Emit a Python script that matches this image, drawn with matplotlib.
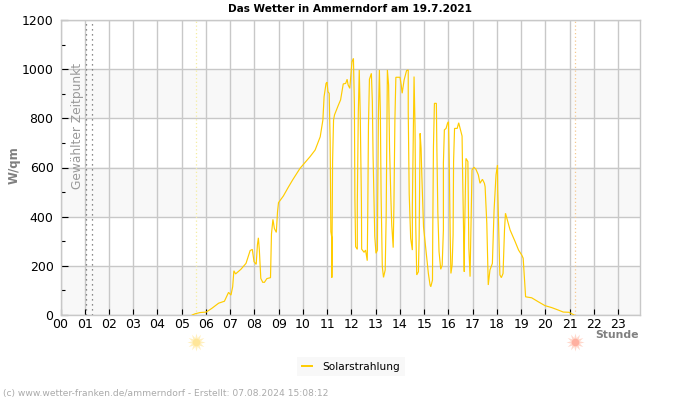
import matplotlib
matplotlib.use("Agg")
import matplotlib.pyplot as plt

# Solarstrahlung
stunde = [5.43, 5.55, 5.76, 6.01, 6.24, 6.52, 6.76, 6.93, 7.03, 7.10, 7.15, 7.22, 7.44, 7.65, 7.82, 7.91, 7.98, 8.07, 8.12, 8.16,
          8.20, 8.26, 8.34, 8.41, 8.51, 8.66, 8.70, 8.76, 8.82, 8.90, 8.95, 8.99, 9.19, 9.39, 9.57, 9.88, 10.29, 10.50, 10.71, 10.82,
          10.87, 10.95, 10.99, 11.03, 11.08, 11.12, 11.15, 11.19, 11.19, 11.22, 11.26, 11.30, 11.46, 11.55, 11.63, 11.66, 11.76, 11.82, 11.86, 11.93,
          11.98, 12.02, 12.08, 12.12, 12.14, 12.17, 12.24, 12.24, 12.28, 12.32, 12.36, 12.41, 12.42, 12.52, 12.58, 12.65, 12.67, 12.70, 12.74, 12.82,
          12.86, 12.89, 12.93, 12.96, 13.01, 13.07, 13.08, 13.11, 13.15, 13.19, 13.22, 13.27, 13.32, 13.39, 13.43, 13.46, 13.48, 13.53, 13.57, 13.62,
          13.66, 13.72, 13.75, 13.79, 13.83, 14.00, 14.05, 14.09, 14.17, 14.27, 14.34, 14.34, 14.38, 14.44, 14.51, 14.51, 14.58, 14.62, 14.65, 14.69,
          14.76, 14.79, 14.83, 14.87, 14.90, 14.97, 15.07, 15.17, 15.24, 15.27, 15.34, 15.35, 15.38, 15.42, 15.50, 15.52, 15.56, 15.61, 15.68, 15.74,
          15.79, 15.79, 15.83, 15.90, 15.96, 16.00, 16.03, 16.07, 16.10, 16.15, 16.19, 16.21, 16.25, 16.36, 16.42, 16.48, 16.56, 16.58, 16.65, 16.66,
          16.72, 16.80, 16.84, 16.89, 16.97, 17.05, 17.13, 17.23, 17.30, 17.40, 17.48, 17.51, 17.58, 17.62, 17.64, 17.71, 17.81, 17.88, 17.96, 18.02,
          18.03, 18.09, 18.12, 18.18, 18.25, 18.31, 18.35, 18.41, 18.54, 18.75, 18.89, 19.02, 19.08, 19.11, 19.18, 19.43, 19.70, 19.98, 20.26, 20.53,
          20.73, 20.97, 21.18]
solar = [0, 5, 10, 12, 27, 48, 56, 92, 81, 115, 180, 167, 186, 210, 262, 267, 217, 206, 285, 314,
         264, 149, 133, 133, 148, 152, 330, 389, 352, 336, 420, 457, 484, 519, 549, 597, 644, 671, 725, 793,
         888, 942, 947, 908, 902, 705, 339, 313, 152, 624, 793, 814, 854, 875, 922, 940, 942, 959, 936, 922,
         983, 1030, 1044, 854, 475, 278, 267, 454, 818, 997, 818, 454, 268, 255, 264, 221, 407, 773, 959, 983,
         868, 647, 461, 319, 251, 264, 454, 814, 997, 827, 495, 197, 153, 183, 400, 793, 997, 936, 678, 488,
         366, 274, 447, 793, 967, 967, 936, 902, 956, 994, 997, 827, 492, 312, 264, 441, 970, 766, 366, 163,
         176, 319, 739, 678, 570, 359, 264, 169, 122, 115, 142, 325, 685, 861, 861, 685, 420, 258, 186, 203,
         346, 618, 753, 759, 780, 786, 631, 325, 169, 203, 325, 624, 759, 759, 782, 759, 728, 590, 176, 313,
         637, 624, 273, 156, 590, 601, 593, 570, 536, 552, 536, 522, 373, 210, 122, 183, 210, 427, 570, 610,
         509, 278, 163, 152, 169, 346, 414, 393, 346, 298, 264, 244, 231, 183, 74, 70, 54, 38, 30, 20,
         12, 11, 0]

stunden_labels = ["%02d" % h for h in range(24)]
y_major = [0, 200, 400, 600, 800, 1000, 1200]
y_minor = [100, 300, 500, 700, 900, 1100]
baender = [(0, 200), (400, 600), (800, 1000)]
gewaehlt = [1.05, 1.31]
aufgang = 5.59
untergang = 21.22

fig = plt.figure(figsize=(7, 4), dpi=100)
ax = fig.add_axes([60.5 / 700, 1 - 315 / 400, 579.8 / 700, 295 / 400])
ax.set_xlim(0, 23.91)
ax.set_ylim(0, 1200)

for lo, hi in baender:
    ax.axhspan(lo, hi, facecolor="#f8f8f8", edgecolor="none", zorder=0)

ax.set_axisbelow(True)
ax.grid(True, which="major", color="#c8c8c8", linewidth=1)
for s in ax.spines.values():
    s.set_color("#c8c8c8")
    s.set_linewidth(1)

ax.set_xticks(range(24))
ax.set_xticklabels(stunden_labels, fontsize=9)
ax.set_yticks(y_major)
ax.set_yticks(y_minor, minor=True)
ax.tick_params(axis="x", direction="in", length=4, width=0.8, pad=2.5, colors="black")
ax.tick_params(axis="y", which="major", direction="in", length=5, width=0.8, pad=5, labelsize=9)
ax.tick_params(axis="y", which="minor", direction="in", length=3, width=0.8)

ax.plot(stunde, solar, color="#ffcc00", linewidth=0.85, solid_joinstyle="miter", label="Solarstrahlung", zorder=3)

# gewaehlter Zeitpunkt und Sonnenauf-/untergang
for g in gewaehlt:
    ax.axvline(g, color="#666666", linestyle=(0, (1, 3)), linewidth=0.9, zorder=2)
ax.axvline(aufgang, color="#f5eda0", linestyle=(0, (1, 2)), linewidth=0.9, zorder=2)
ax.axvline(untergang, color="#f5c890", linestyle=(0, (1, 2)), linewidth=0.9, zorder=2)
ax.text(0.72, 1025, "Gewählter Zeitpunkt", rotation=90, fontsize=8.8, color="#999999", ha="center", va="top", zorder=4)

# Sonnensymbole unter der Achse
ax.plot([aufgang], [-108], marker=(12, 1, 0), markersize=13, color="#fff0c0", markeredgewidth=0, clip_on=False)
ax.plot([aufgang], [-108], marker="o", markersize=5.5, color="#ffe69a", markeredgewidth=0, clip_on=False)
ax.plot([untergang], [-108], marker=(12, 1, 0), markersize=13, color="#ffd8cc", markeredgewidth=0, clip_on=False)
ax.plot([untergang], [-108], marker="o", markersize=5.5, color="#ffb0a0", markeredgewidth=0, clip_on=False)

fig.text(350 / 700, 1 - 9 / 400, "Das Wetter in Ammerndorf am 19.7.2021", fontsize=7.6, fontweight="bold", ha="center", va="center")
fig.text(14 / 700, 1 - 165 / 400, "W/qm", fontsize=8.5, fontweight="bold", color="#808080", rotation=90, ha="center", va="center")
fig.text(639 / 700, 1 - 335 / 400, "Stunde", fontsize=7.8, fontweight="bold", color="#808080", ha="right", va="center")
fig.text(3 / 700, 1 - 393.5 / 400, "(c) www.wetter-franken.de/ammerndorf - Erstellt: 07.08.2024 15:08:12", fontsize=6.6, color="#aaaaaa", ha="left", va="center")

leg = ax.legend(loc="center", bbox_to_anchor=(351 / 700, 1 - 366.5 / 400), bbox_transform=fig.transFigure, fontsize=7.6,
                frameon=True, facecolor="#f8f8f8", edgecolor="none", framealpha=1, fancybox=False, handlelength=1.0, handletextpad=1)
leg.get_lines()[0].set_linewidth(1.4)

fig.savefig("out.png", dpi=100)
